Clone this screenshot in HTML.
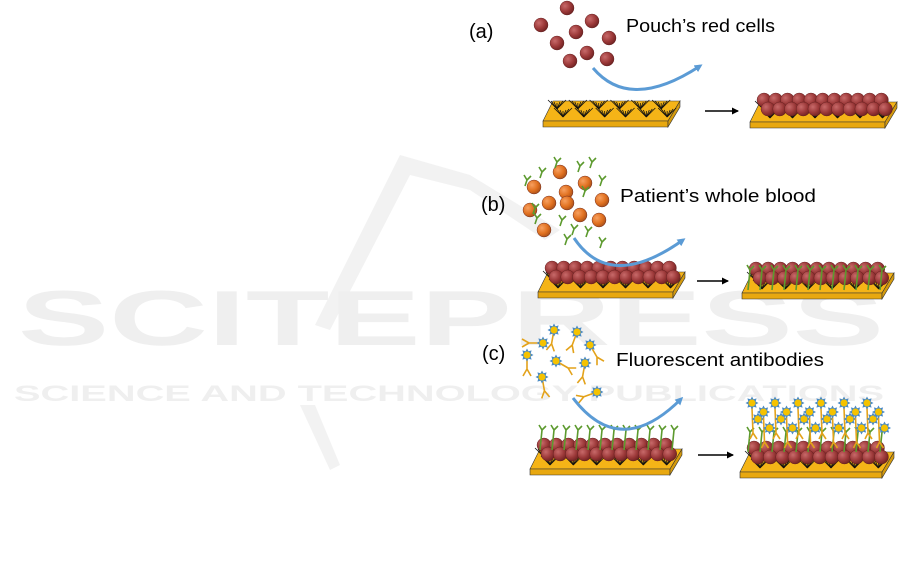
<!DOCTYPE html>
<html><head><meta charset="utf-8"><style>
html,body{margin:0;padding:0;background:#fff;width:901px;height:576px;overflow:hidden}
svg{display:block}
text{font-family:"Liberation Sans",sans-serif}
</style></head><body>
<svg id="s" width="901" height="576" viewBox="0 0 901 576" xmlns="http://www.w3.org/2000/svg">
<defs>
<radialGradient id="rc" cx="0.35" cy="0.35" r="0.7"><stop offset="0" stop-color="#c86a6a"/><stop offset="0.6" stop-color="#9b3838"/><stop offset="1" stop-color="#6e2222"/></radialGradient>
<radialGradient id="oc" cx="0.35" cy="0.35" r="0.7"><stop offset="0" stop-color="#f7a060"/><stop offset="0.6" stop-color="#e0701f"/><stop offset="1" stop-color="#a8501a"/></radialGradient>
<marker id="ab" markerWidth="8" markerHeight="8" refX="5" refY="4" orient="auto" markerUnits="userSpaceOnUse"><path d="M0,0 L8,4 L0,8 z" fill="#5b9bd5"/></marker>
<marker id="ak" markerWidth="7" markerHeight="7" refX="6" refY="3.5" orient="auto" markerUnits="userSpaceOnUse"><path d="M0,0 L7,3.5 L0,7 z" fill="#000"/></marker>
</defs>
<!-- watermark -->
<g fill="#efefef">
<path d="M400,155 L470,175 L560,230 L545,240 L470,190 L410,175 L330,330 L315,325 Z" fill="#f2f2f2"/>
<path d="M300,405 L330,470 L340,465 L315,405 Z" fill="#f2f2f2"/>
<text x="18" y="345" font-size="78" font-weight="bold" textLength="866" lengthAdjust="spacingAndGlyphs">SCITEPRESS</text>
<text x="14" y="401" font-size="22" font-weight="bold" textLength="870" lengthAdjust="spacingAndGlyphs">SCIENCE AND TECHNOLOGY PUBLICATIONS</text>
</g>
<g id="g"></g>
<g font-size="20" fill="#000">
<text x="469" y="38">(a)</text>
<text x="481" y="211">(b)</text>
<text x="482" y="360">(c)</text>
</g>
<g font-size="18" fill="#000">
<text x="626" y="32" textLength="149" lengthAdjust="spacingAndGlyphs">Pouch’s red cells</text>
<text x="620" y="202" textLength="196" lengthAdjust="spacingAndGlyphs">Patient’s whole blood</text>
<text x="616" y="366" textLength="208" lengthAdjust="spacingAndGlyphs">Fluorescent antibodies</text>
</g>
</svg>
<script>
const g=document.getElementById('g');let h='';
function plate(x,y,w,fibers){
 h+=`<polygon points="${x},${y} ${x+10},${y-20} ${x+w+12},${y-20} ${x+w},${y}" fill="#f5b417" stroke="#333" stroke-width="0.6"/>`;
 h+=`<polygon points="${x},${y} ${x+w},${y} ${x+w},${y+6} ${x},${y+6}" fill="#e8a810" stroke="#333" stroke-width="0.6"/>`;
 h+=`<polygon points="${x+w},${y} ${x+w+12},${y-20} ${x+w+12},${y-14} ${x+w},${y+6}" fill="#d49a0d" stroke="#333" stroke-width="0.6"/>`;
 if(fibers){for(let i=0;i<6;i++){for(let r=0;r<2;r++){let cx=x+14+i*(w/6)+r*6,cy=y-12+r*8;
  for(let k=-3;k<=3;k++){h+=`<line x1="${cx}" y1="${cy}" x2="${cx+k*3}" y2="${cy-6-Math.abs(k)}" stroke="#111" stroke-width="0.8"/>`;}}}}
}
function cell(x,y,r,f){h+=`<circle cx="${x}" cy="${y}" r="${r}" fill="url(#${f})" stroke="#5a1a1a" stroke-width="0.4"/>`;}
function layer(x,y,w){for(let row=0;row<2;row++)for(let i=0;i<11;i++){cell(x+12+row*4+i*(w/11.5),y-12+row*9,7,'rc');}}
function ab(x,y,c,len){h+=`<path d="M${x},${y} L${x+2},${y-len} M${x+2},${y-len} l-3,-5 M${x+2},${y-len} l4,-4" stroke="${c}" stroke-width="1.6" fill="none"/>`;}
function star(x,y){let p='';for(let k=0;k<16;k++){let a=k*Math.PI/8,r=k%2?4:6.5;p+=(x+r*Math.cos(a)).toFixed(1)+','+(y+r*Math.sin(a)).toFixed(1)+' ';}
 h+=`<polygon points="${p}" fill="#4a8ac4"/><circle cx="${x}" cy="${y}" r="3.5" fill="#f5c200"/>`;}
function fab(x,y,ang){let rad=ang*Math.PI/180,dx=Math.cos(rad),dy=Math.sin(rad);
 h+=`<path d="M${x},${y} L${x+dx*14},${y+dy*14} M${x+dx*14},${y+dy*14} l${(dx*7-dy*4).toFixed(1)},${(dy*7+dx*4).toFixed(1)} M${x+dx*14},${y+dy*14} l${(dx*7+dy*4).toFixed(1)},${(dy*7-dx*4).toFixed(1)}" stroke="#e3a21a" stroke-width="1.6" fill="none"/>`;star(x,y);}
// (a)
plate(543,121,125,true);
[[567,8],[541,25],[592,21],[576,32],[557,43],[609,38],[587,53],[570,61],[607,59]].forEach(p=>cell(p[0],p[1],7,'rc'));
h+=`<path d="M593,68 Q630,112 700,66" stroke="#5b9bd5" stroke-width="3" fill="none" marker-end="url(#ab)"/>`;
h+=`<line x1="705" y1="111" x2="738" y2="111" stroke="#000" stroke-width="1.5" marker-end="url(#ak)"/>`;
plate(750,122,135,true);layer(752,112,135);
// (b)
[[560,172],[534,187],[585,183],[566,192],[602,200],[549,203],[580,215],[599,220],[544,230],[530,210],[567,203]].forEach(p=>cell(p[0],p[1],7,'oc'));
[[525,186],[540,178],[555,168],[578,172],[590,168],[600,186],[533,214],[560,226],[535,224],[572,235],[586,237],[565,245],[600,248],[583,197]].forEach(p=>ab(p[0],p[1],'#5c9a2e',6));
plate(538,292,135,true);layer(540,280,135);
h+=`<path d="M574,238 Q610,292 683,240" stroke="#5b9bd5" stroke-width="3" fill="none" marker-end="url(#ab)"/>`;
h+=`<line x1="697" y1="281" x2="728" y2="281" stroke="#000" stroke-width="1.5" marker-end="url(#ak)"/>`;
plate(742,293,140,true);layer(744,281,140);
for(let i=0;i<12;i++)ab(748+i*12,290,'#5c9a2e',20);
// (c)
[[543,343,180],[527,355,90],[556,361,30],[577,332,110],[590,345,60],[585,363,100],[542,377,80],[597,392,160],[554,330,100]].forEach(p=>fab(p[0],p[1],p[2]));
plate(530,469,140,true);layer(532,457,140);
for(let i=0;i<12;i++)ab(540+i*12,450,'#5c9a2e',20);
h+=`<path d="M573,398 Q620,460 681,399" stroke="#5b9bd5" stroke-width="3" fill="none" marker-end="url(#ab)"/>`;
h+=`<line x1="698" y1="455" x2="733" y2="455" stroke="#000" stroke-width="1.5" marker-end="url(#ak)"/>`;
plate(740,472,142,true);layer(742,460,142);
for(let i=0;i<12;i++)ab(748+i*12,452,'#5c9a2e',20);
for(let i=0;i<12;i++){let x=752+i*11.5,y=i%2?412:403;h+=`<path d="M${x},${y+5} L${x+1},${y+30} M${x+1},${y+30} l-3,6 M${x+1},${y+30} l4,6" stroke="#e3a21a" stroke-width="1.6" fill="none"/>`;star(x,y);star(x+6,y+16);}
g.innerHTML=h;
</script>
</body></html>
